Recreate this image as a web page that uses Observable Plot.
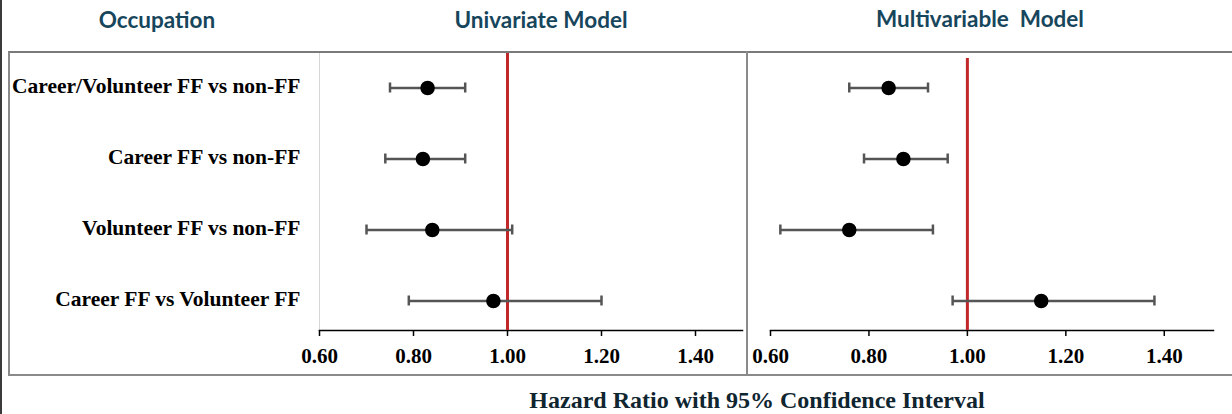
<!DOCTYPE html>
<html><head><meta charset="utf-8">
<script src="https://cdn.jsdelivr.net/npm/d3@7"></script>
<script src="https://cdn.jsdelivr.net/npm/@observablehq/plot@0.6"></script>
<style>
html,body{margin:0;padding:0;background:#fff;}
#wrap{position:relative;width:1232px;height:414px;overflow:hidden;background:#fff;}
.hdr{position:absolute;font-family:Lato,"Open Sans",sans-serif;font-weight:bold;font-size:22.5px;color:#17465c;white-space:pre;transform:translate(-50%,-50%);line-height:1;}
.title{position:absolute;font-family:"Liberation Serif","Times New Roman",serif;font-weight:bold;font-size:24px;color:#0f2530;white-space:pre;transform:translate(-50%,-50%);line-height:1;}
.panel{position:absolute;top:52px;}
.line{position:absolute;}
</style>
</head><body>
<div id="wrap">
  <div class="line" style="left:0;top:0;width:2px;height:414px;background:#3a3a3a"></div>
  <div id="left" class="panel" style="left:0"></div>
  <div id="right" class="panel" style="left:747px"></div>
  <div class="line" style="left:8px;top:51px;width:1224px;height:325px;border-top:2px solid #7a7a7a;border-left:2px solid #8a8a8a;border-bottom:2px solid #8a8a8a;box-sizing:border-box"></div>
  <div class="line" style="left:746px;top:51px;width:2px;height:325px;background:#8a8a8a"></div>
  <div class="hdr" style="left:157px;top:20px">Occupation</div>
  <div class="hdr" style="left:541px;top:20px">Univariate Model</div>
  <div class="hdr" style="left:980px;top:19px">Multivariable  Model</div>
  <div class="title" style="left:757px;top:400px">Hazard Ratio with 95% Confidence Interval</div>
</div>
<script>
const comparisons = ["Career/Volunteer FF vs non-FF", "Career FF vs non-FF", "Volunteer FF vs non-FF", "Career FF vs Volunteer FF"];
const uniHR = [0.83, 0.82, 0.84, 0.97];
const uniLo = [0.75, 0.74, 0.70, 0.79];
const uniHi = [0.91, 0.91, 1.01, 1.20];
const multiHR = [0.84, 0.87, 0.76, 1.15];
const multiLo = [0.76, 0.79, 0.62, 0.97];
const multiHi = [0.92, 0.96, 0.93, 1.38];
const xTicks = [0.60, 0.80, 1.00, 1.20, 1.40];
const refValue = [1.00];

function rows(hr, lo, hi) {
  return comparisons.map((c, i) => ({label: c, hr: hr[i], lo: lo[i], hi: hi[i]}));
}

function panel({hr, lo, hi, width, marginLeft, marginRight, showY, refInset}) {
  const data = rows(hr, lo, hi);
  const caps = data.flatMap(d => [{label: d.label, x: d.lo}, {label: d.label, x: d.hi}]);
  const marks = [
    Plot.frame({anchor: "bottom", stroke: "black", strokeWidth: 1.5}),
    Plot.axisX({ticks: xTicks, tickFormat: d3.format(".2f"), tickSize: 6, tickPadding: 12, fontSize: 21, color: "black", strokeWidth: 1.5, label: null}),
    Plot.ruleX(refValue, {stroke: "#c0282a", strokeWidth: 3, insetTop: refInset}),
    Plot.ruleY(data, {y: "label", x1: "lo", x2: "hi", stroke: "#555", strokeWidth: 2.5}),
    Plot.tickX(caps, {x: "x", y: "label", stroke: "#555", strokeWidth: 2.5, insetTop: 30.5, insetBottom: 30.5}),
    Plot.dot(data, {x: "hr", y: "label", r: 6.5, fill: "black", stroke: "black"})
  ];
  if (showY) {
    marks.unshift(Plot.frame({anchor: "left", stroke: "#d6d6d6", strokeWidth: 1}));
    marks.push(Plot.axisY({tickSize: 0, tickPadding: 19, fontSize: 21.5, color: "black", dy: -2, label: null}));
  }
  return Plot.plot({
    width, height: 324,
    marginLeft, marginRight, marginTop: 0, marginBottom: 46,
    style: {fontFamily: "'Liberation Serif','Times New Roman',serif", fontWeight: "bold", background: "transparent", overflow: "visible"},
    x: {domain: [0.6, 1.5]},
    y: {type: "band", domain: comparisons, range: [-0.5, 283.5], padding: 0, axis: null},
    marks
  });
}

document.getElementById("left").append(panel({hr: uniHR, lo: uniLo, hi: uniHi, width: 747, marginLeft: 319, marginRight: 5, showY: true, refInset: 0}));
document.getElementById("right").append(panel({hr: multiHR, lo: multiLo, hi: multiHi, width: 485, marginLeft: 23, marginRight: 19, showY: false, refInset: 6}));
</script>
</body></html>
